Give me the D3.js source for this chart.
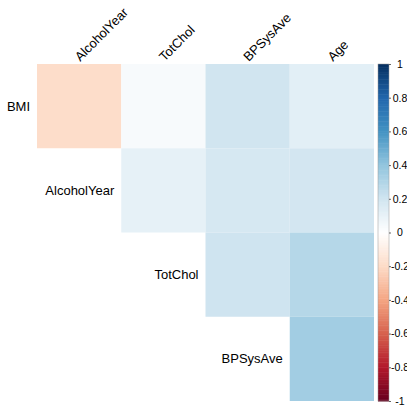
<!DOCTYPE html>
<html>
<head>
<meta charset="utf-8">
<script src="https://cdn.jsdelivr.net/npm/d3@7"></script>
<style>
  html, body { margin: 0; padding: 0; background: #fff; }
  svg { display: block; font-family: "Liberation Sans", Arial, sans-serif; }
</style>
</head>
<body>
<svg id="chart" width="407" height="407"></svg>
<script>
// Variables along rows and columns of the upper-triangle correlation matrix
const rowVars = ["BMI", "AlcoholYear", "TotChol", "BPSysAve"];
const colVars = ["AlcoholYear", "TotChol", "BPSysAve", "Age"];

// Pairwise correlations (row, column, r)
const pairRow = ["BMI", "BMI", "BMI", "BMI", "AlcoholYear", "AlcoholYear", "AlcoholYear", "TotChol", "TotChol", "BPSysAve"];
const pairCol = ["AlcoholYear", "TotChol", "BPSysAve", "Age", "TotChol", "BPSysAve", "Age", "BPSysAve", "Age", "Age"];
const pairR   = [-0.19, 0.035, 0.2, 0.125, 0.11, 0.18, 0.19, 0.205, 0.29, 0.35];

// Colour bar ticks
const barTicks = [1, 0.8, 0.6, 0.4, 0.2, 0, -0.2, -0.4, -0.6, -0.8, -1];

// RdBu diverging palette
const paletteStops = [-1, -0.8, -0.6, -0.4, -0.2, 0, 0.2, 0.4, 0.6, 0.8, 1];
const paletteCols  = ["#67001F", "#B2182B", "#D6604D", "#F4A582", "#FDDBC7", "#FFFFFF",
                      "#D1E5F0", "#92C5DE", "#4393C3", "#2166AC", "#053061"];

const svg = d3.select("#chart");
const gridLeft = 37, gridTop = 64, gridRight = 374, gridBottom = 401;

const x = d3.scaleBand().domain(colVars).range([gridLeft, gridRight]).padding(0);
const y = d3.scaleBand().domain(rowVars).range([gridTop, gridBottom]).padding(0);
const color = d3.scaleLinear().domain(paletteStops).range(paletteCols).interpolate(d3.interpolateRgb);

const cells = pairR.map((r, i) => ({ row: pairRow[i], col: pairCol[i], r }));

svg.append("g").selectAll("rect")
  .data(cells)
  .join("rect")
  .attr("x", d => x(d.col))
  .attr("y", d => y(d.row))
  .attr("width", x.bandwidth())
  .attr("height", y.bandwidth())
  .attr("fill", d => color(d.r));

// Row labels, right-aligned just left of the first cell in each row
svg.append("g").selectAll("text")
  .data(rowVars)
  .join("text")
  .attr("x", (d, i) => x(colVars[i]) - 7)
  .attr("y", d => y(d) + y.bandwidth() / 2)
  .attr("text-anchor", "end")
  .attr("dominant-baseline", "central")
  .attr("font-size", 13)
  .attr("fill", "#000")
  .text(d => d);

// Column labels, rotated 45 degrees above the grid
svg.append("g").selectAll("text")
  .data(colVars)
  .join("text")
  .attr("transform", d => `translate(${x(d) + x.bandwidth() / 2 + 1},${gridTop - 2}) rotate(-45)`)
  .attr("text-anchor", "start")
  .attr("font-size", 13)
  .attr("fill", "#000")
  .text(d => d);

// Colour bar
const barX = 378, barW = 11;
const barScale = d3.scaleLinear().domain([-1, 1]).range([gridBottom, gridTop]);
const nSteps = 200;
const steps = d3.range(nSteps).map(i => -1 + (i + 0.5) * 2 / nSteps);
const stepH = (gridBottom - gridTop) / nSteps;
const bar = svg.append("g");
bar.selectAll("rect")
  .data(steps)
  .join("rect")
  .attr("x", barX)
  .attr("y", d => barScale(d) - stepH / 2)
  .attr("width", barW)
  .attr("height", stepH + 0.5)
  .attr("fill", d => color(d));
bar.append("rect")
  .attr("x", barX).attr("y", gridTop)
  .attr("width", barW).attr("height", gridBottom - gridTop)
  .attr("fill", "none").attr("stroke", "#999").attr("stroke-width", 0.5);

const barAxis = d3.axisRight(barScale)
  .tickValues(barTicks)
  .tickSize(2)
  .tickPadding(0)
  .tickFormat(d => d === 0 ? "0" : String(d));
const axG = svg.append("g")
  .attr("transform", `translate(${barX + barW},0)`)
  .call(barAxis);
axG.select(".domain").remove();
axG.selectAll("text")
  .attr("x", 11)
  .attr("text-anchor", "middle")
  .attr("font-size", 10.5)
  .attr("font-family", "Liberation Sans, Arial, sans-serif")
  .attr("fill", "#000");
axG.selectAll("line").attr("stroke", "#000").attr("stroke-width", 0.6);
</script>
</body>
</html>
